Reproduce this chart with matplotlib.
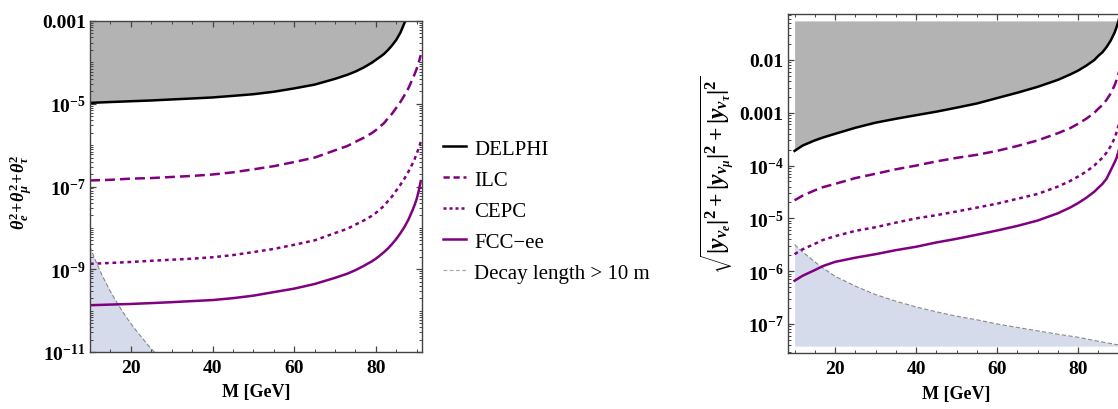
import numpy as np
import matplotlib
matplotlib.use("Agg")
import matplotlib.pyplot as plt
from matplotlib.ticker import FixedLocator, LogLocator, MultipleLocator, FuncFormatter, NullFormatter
from matplotlib.lines import Line2D

plt.rcParams['font.family'] = 'Liberation Serif'
plt.rcParams['mathtext.fontset'] = 'custom'
plt.rcParams['mathtext.rm'] = 'Liberation Serif:bold'
plt.rcParams['mathtext.it'] = 'Liberation Serif:italic:bold'
plt.rcParams['mathtext.bf'] = 'Liberation Serif:bold'

# ---------------- data ----------------
# left panel: theta^2 sums
m_l = [10, 15, 20, 25, 30, 35, 40, 45, 50, 55, 60, 65, 70, 73, 75, 77, 79, 80, 81, 82,
       83, 84, 85, 86, 87, 88, 89, 89.5, 90, 90.5, 91]
ilc_l = [1.4e-7, 1.45e-7, 1.55e-7, 1.6e-7, 1.7e-7, 1.8e-7, 1.95e-7, 2.2e-7, 2.6e-7, 3.1e-7,
         3.9e-7, 5.0e-7, 7.5e-7, 9.5e-7, 1.2e-6, 1.5e-6, 1.95e-6, 2.3e-6, 2.8e-6, 3.4e-6,
         4.5e-6, 5.8e-6, 8e-6, 1.1e-5, 1.6e-5, 2.4e-5, 4e-5, 5.2e-5, 7e-5, 1.0e-4, 1.5e-4]
cepc_l = [1.35e-9, 1.42e-9, 1.5e-9, 1.6e-9, 1.7e-9, 1.8e-9, 1.95e-9, 2.2e-9, 2.6e-9, 3.1e-9,
          3.9e-9, 5.0e-9, 7.5e-9, 9.5e-9, 1.2e-8, 1.5e-8, 1.95e-8, 2.3e-8, 2.8e-8, 3.4e-8,
          4.5e-8, 5.8e-8, 8e-8, 1.1e-7, 1.55e-7, 2.3e-7, 3.6e-7, 4.6e-7, 6.2e-7, 8.5e-7, 1.2e-6]
fcc_l = [1.35e-10, 1.4e-10, 1.45e-10, 1.52e-10, 1.6e-10, 1.7e-10, 1.8e-10, 2.0e-10, 2.3e-10,
         2.8e-10, 3.4e-10, 4.4e-10, 6.2e-10, 7.8e-10, 9.5e-10, 1.2e-9, 1.55e-9, 1.8e-9,
         2.15e-9, 2.6e-9, 3.2e-9, 4.1e-9, 5.4e-9, 7.4e-9, 1.05e-8, 1.6e-8, 2.7e-8, 3.6e-8,
         5e-8, 7.8e-8, 1.35e-7]
m_delphi_l = [10, 15, 20, 25, 30, 35, 40, 45, 50, 55, 60, 65, 70, 73, 75, 77, 79, 80, 81, 82,
              83, 84, 85, 86, 86.5, 87, 87.3]
delphi_l = [1.05e-5, 1.1e-5, 1.15e-5, 1.2e-5, 1.27e-5, 1.34e-5, 1.42e-5, 1.55e-5, 1.7e-5,
            1.95e-5, 2.35e-5, 2.9e-5, 4.0e-5, 5.0e-5, 6.0e-5, 7.5e-5, 9.8e-5, 1.15e-4,
            1.35e-4, 1.6e-4, 2.0e-4, 2.6e-4, 3.5e-4, 5.2e-4, 6.8e-4, 9e-4, 1.0e-3]
m_decay_l = [10, 11, 12, 13, 14, 15, 16, 17, 18, 19, 20, 21, 22, 23, 24, 25, 26]
decay_l = [3.5e-9, 1.95e-9, 1.15e-9, 7e-10, 4.5e-10, 2.9e-10, 1.95e-10, 1.35e-10, 9.4e-11,
           6.7e-11, 4.9e-11, 3.6e-11, 2.7e-11, 2.05e-11, 1.55e-11, 1.2e-11, 9.4e-12]

# right panel: sqrt(sum |y|^2)
m_r = [10, 12, 15, 17, 20, 25, 30, 35, 40, 45, 50, 55, 60, 65, 70, 75, 78, 80, 82, 84, 85,
       86, 87, 88, 89, 89.5, 90, 90.5, 91]
delphi_r = [1.9e-4, 2.4e-4, 3.0e-4, 3.4e-4, 4.0e-4, 5.2e-4, 6.5e-4, 7.7e-4, 9e-4, 1.05e-3,
            1.25e-3, 1.5e-3, 1.9e-3, 2.4e-3, 3.1e-3, 4.2e-3, 5.3e-3, 6.3e-3, 7.8e-3, 1.0e-2,
            1.2e-2, 1.4e-2, 1.75e-2, 2.3e-2, 3.3e-2, 4.2e-2, 5.6e-2, 8e-2, 1.2e-1]
ilc_r = [2.2e-5, 2.7e-5, 3.4e-5, 3.9e-5, 4.5e-5, 5.8e-5, 7e-5, 8.5e-5, 1e-4, 1.2e-4, 1.4e-4,
         1.6e-4, 1.9e-4, 2.35e-4, 3e-4, 4.1e-4, 5.1e-4, 6.2e-4, 7.7e-4, 1.0e-3, 1.2e-3,
         1.4e-3, 1.75e-3, 2.3e-3, 3.3e-3, 4.2e-3, 5.6e-3, 8e-3, 1.2e-2]
cepc_r = [2.1e-6, 2.6e-6, 3.3e-6, 3.9e-6, 4.6e-6, 5.8e-6, 6.8e-6, 8.3e-6, 1e-5, 1.15e-5,
          1.35e-5, 1.6e-5, 1.9e-5, 2.35e-5, 2.9e-5, 4.0e-5, 5.1e-5, 6.2e-5, 7.7e-5, 1.0e-4,
          1.2e-4, 1.4e-4, 1.75e-4, 2.3e-4, 3.3e-4, 4.3e-4, 5.8e-4, 8.2e-4, 1.2e-3]
fcc_r = [6.6e-7, 8.2e-7, 1.05e-6, 1.25e-6, 1.5e-6, 1.8e-6, 2.1e-6, 2.5e-6, 2.9e-6, 3.5e-6,
         4.1e-6, 4.9e-6, 5.9e-6, 7.2e-6, 9.1e-6, 1.25e-5, 1.6e-5, 1.95e-5, 2.45e-5, 3.2e-5,
         3.8e-5, 4.5e-5, 5.6e-5, 8.0e-5, 1.15e-4, 1.4e-4, 1.9e-4, 2.7e-4, 4e-4]
m_decay_r = [10, 11, 12, 13, 15, 17, 20, 23, 25, 30, 35, 40, 45, 50, 55, 60, 65, 70, 75, 80,
             85, 90, 91]
decay_r = [3.2e-6, 2.7e-6, 2.3e-6, 2.0e-6, 1.5e-6, 1.15e-6, 8e-7, 6.2e-7, 5.2e-7, 3.6e-7,
           2.7e-7, 2.1e-7, 1.7e-7, 1.4e-7, 1.2e-7, 1.0e-7, 8.6e-8, 7.4e-8, 6.4e-8, 5.6e-8,
           4.7e-8, 4.0e-8, 3.85e-8]
fill_top_r = 0.055
fill_bot_r = 3.8e-8

labels = ['DELPHI', 'ILC', 'CEPC', 'FCC\u2212ee', 'Decay length > 10 m']

PURPLE = '#800080'
GRAY_FILL = '#b3b3b3'
BLUE_FILL = '#d5dbea'
FRAME = '#444444'


def style_axes(ax):
    for s in ax.spines.values():
        s.set_color(FRAME)
        s.set_linewidth(1.0)
    ax.tick_params(which='both', direction='in', top=True, right=True, color=FRAME,
                   labelsize=14)
    ax.tick_params(axis='x', pad=5)
    ax.tick_params(axis='y', pad=3)
    ax.tick_params(which='major', length=4.5, width=0.9)
    ax.tick_params(which='minor', length=2.5, width=0.7)
    ax.xaxis.set_major_locator(FixedLocator([20, 40, 60, 80]))
    ax.xaxis.set_minor_locator(MultipleLocator(5))


def log_fmt(v, pos):
    e = int(round(np.log10(v)))
    if e == -3:
        return '0.001'
    if e == -2:
        return '0.01'
    return r'$10^{%d}$' % e


fig = plt.figure(figsize=(11.18, 4.10), dpi=100)

# ---------------- left panel ----------------
axl = fig.add_axes([90 / 1118, 57 / 410, 332 / 1118, 331 / 410])
axl.set_yscale('log')
axl.set_xlim(10, 91.3)
axl.set_ylim(1e-11, 1e-3)

axl.fill_between(m_delphi_l, delphi_l, 1e-3, color=GRAY_FILL, lw=0)
axl.fill_between(m_decay_l, 1e-11, decay_l, color=BLUE_FILL, lw=0)
axl.plot(m_decay_l, decay_l, color='#888888', lw=0.8, ls=(0, (4, 2)))
axl.plot(m_delphi_l, delphi_l, color='black', lw=1.8)
axl.plot(m_l, ilc_l, color=PURPLE, lw=1.8, ls=(0, (4, 2)))
axl.plot(m_l, cepc_l, color=PURPLE, lw=1.8, ls=(0, (1.5, 1.5)))
axl.plot(m_l, fcc_l, color=PURPLE, lw=1.8)

style_axes(axl)
axl.yaxis.set_major_locator(FixedLocator([1e-11, 1e-9, 1e-7, 1e-5, 1e-3]))
axl.yaxis.set_minor_locator(LogLocator(base=10, subs=np.arange(1, 10), numticks=40))
axl.yaxis.set_minor_formatter(NullFormatter())
axl.yaxis.set_major_formatter(FuncFormatter(log_fmt))
for lab in axl.get_yticklabels() + axl.get_xticklabels():
    lab.set_fontweight('bold')
axl.set_xlabel('M [GeV]', fontsize=13, fontweight='bold')
axl.xaxis.set_label_coords(0.5, -0.095)
axl.set_ylabel(r'$\theta_e^2\!+\!\theta_\mu^2\!+\!\theta_\tau^2$', fontsize=13)
axl.yaxis.set_label_coords(-0.166, 0.486)

# ---------------- right panel ----------------
axr = fig.add_axes([787.7 / 1118, 56 / 410, 337 / 1118, 339 / 410])
axr.set_yscale('log')
axr.set_xlim(8.3, 91.5)
axr.set_ylim(2.82e-8, 0.0743)

dl = np.minimum(delphi_r, fill_top_r)
axr.fill_between(m_r, dl, fill_top_r, color=GRAY_FILL, lw=0)
axr.fill_between(m_decay_r, fill_bot_r, decay_r, color=BLUE_FILL, lw=0)
axr.plot(m_decay_r, decay_r, color='#888888', lw=0.8, ls=(0, (4, 2)))
axr.plot(m_r, delphi_r, color='black', lw=1.8)
axr.plot(m_r, ilc_r, color=PURPLE, lw=1.8, ls=(0, (4, 2)))
axr.plot(m_r, cepc_r, color=PURPLE, lw=1.8, ls=(0, (1.5, 1.5)))
axr.plot(m_r, fcc_r, color=PURPLE, lw=1.8)

style_axes(axr)
axr.yaxis.set_major_locator(FixedLocator([1e-7, 1e-6, 1e-5, 1e-4, 1e-3, 1e-2]))
axr.yaxis.set_minor_locator(LogLocator(base=10, subs=np.arange(2, 10), numticks=40))
axr.yaxis.set_minor_formatter(NullFormatter())
axr.yaxis.set_major_formatter(FuncFormatter(log_fmt))
for lab in axr.get_yticklabels() + axr.get_xticklabels():
    lab.set_fontweight('bold')
axr.set_xlabel('M [GeV]', fontsize=13, fontweight='bold')
axr.xaxis.set_label_coords(0.5, -0.095)
axr.set_ylabel(r'$\sqrt{|y_{\nu_e}|^2+|y_{\nu_\mu}|^2+|y_{\nu_\tau}|^2}$', fontsize=17)
axr.yaxis.set_label_coords(-0.15, 0.528)

# ---------------- legend ----------------
handles = [
    Line2D([], [], color='black', lw=1.8),
    Line2D([], [], color=PURPLE, lw=1.8, ls=(0, (2.5, 1.5))),
    Line2D([], [], color=PURPLE, lw=1.8, ls=(0, (1.2, 1.2))),
    Line2D([], [], color=PURPLE, lw=1.8),
    Line2D([], [], color='#aaaaaa', lw=0.9, ls=(0, (3, 2))),
]
fig.legend(handles, labels, loc='upper left', bbox_to_anchor=(443 / 1118, 1 - 140 / 410),
           frameon=False, fontsize=15, handlelength=1.1, handletextpad=0.4,
           labelspacing=0.55, borderpad=0, borderaxespad=0)

fig.savefig('out.png', dpi=100)
